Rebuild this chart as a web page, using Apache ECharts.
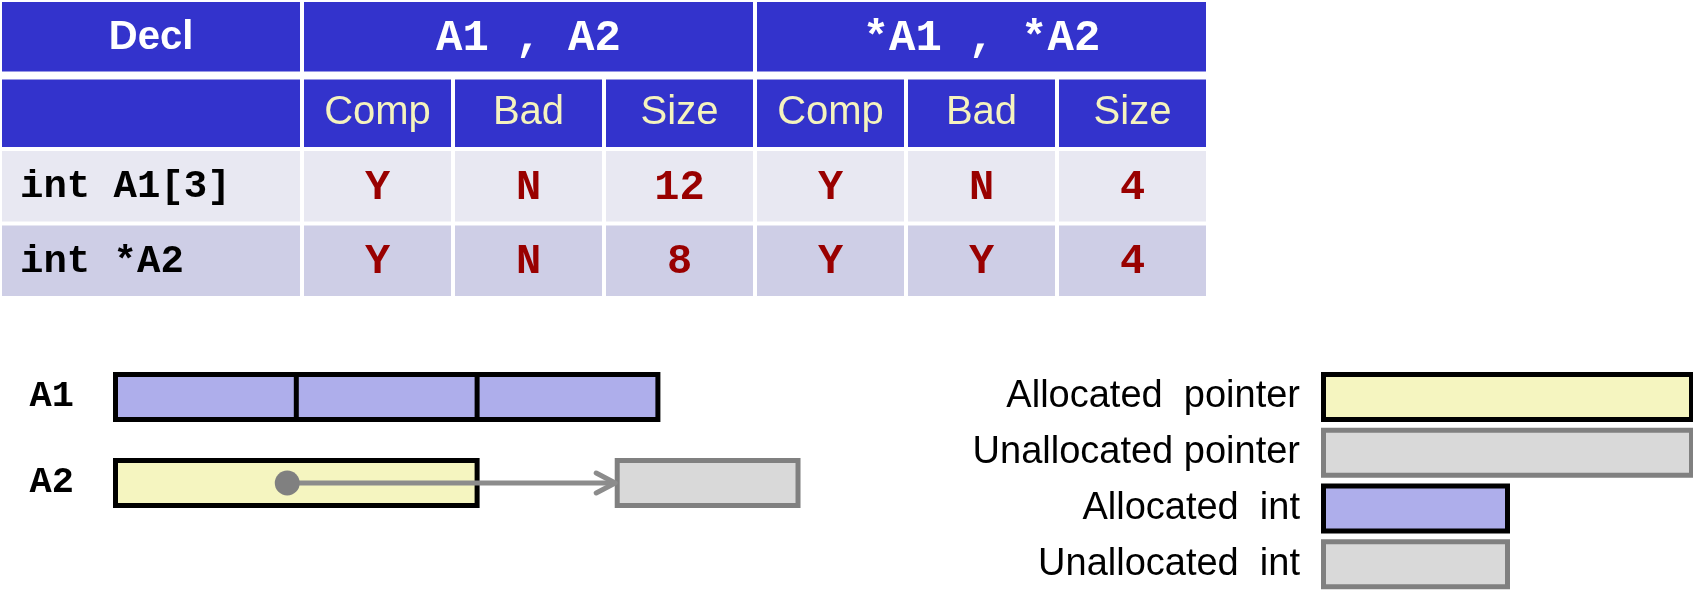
<!DOCTYPE html>
<html>
<head>
<meta charset="utf-8">
<script src="https://cdn.jsdelivr.net/npm/echarts@6/dist/echarts.min.js"></script>
<style>
html, body { margin: 0; padding: 0; background: #fff; }
#chart { width: 1693px; height: 604px; }
</style>
</head>
<body>
<div id="chart"></div>
<script>
// ---- table content ----
var groupTitles = ['Decl', 'A1 , A2', '*A1 , *A2'];
var groupSpans = [2, 3, 3];
var columnTitles = ['Comp', 'Bad', 'Size'];
var decls = ['int A1[3]', 'int *A2'];
// per declaration: Comp, Bad, Size
var directInfo = [['Y', 'N', '12'], ['Y', 'N', '8']];
var derefInfo = [['Y', 'N', '4'], ['Y', 'Y', '4']];

// ---- memory picture, sizes in bytes ----
var varNames = ['A1', 'A2'];
var varKinds = ['allocInt', 'allocPtr'];
var varSizes = [12, 8];
var varCells = [3, 1];
var pointerFrom = 3.8;
var targetStart = 11.1;
var targetSize = 4;

// ---- legend ----
var legendNames = ['Allocated  pointer', 'Unallocated pointer', 'Allocated  int', 'Unallocated  int'];
var legendKinds = ['allocPtr', 'unallocPtr', 'allocInt', 'unallocInt'];
var legendSizes = [8, 8, 4, 4];

var kindStyle = {
    allocPtr: { fill: '#F5F5C0', stroke: '#000000' },
    unallocPtr: { fill: '#D9D9D9', stroke: '#808080' },
    allocInt: { fill: '#AEAEEB', stroke: '#000000' },
    unallocInt: { fill: '#D9D9D9', stroke: '#808080' }
};

var SANS = '"Liberation Sans", Arial, sans-serif';
var MONO = '"Courier New", "Liberation Mono", monospace';

var textStyles = {
    titleSans: { font: 'bold 40px ' + SANS, fill: '#ffffff', align: 'center', dy: 1 },
    titleMono: { font: 'bold 44px ' + MONO, fill: '#ffffff', align: 'center', dy: 2 },
    sub: { font: '40px ' + SANS, fill: '#F5F3BE', align: 'center', dy: 0 },
    decl: { font: 'bold 39px ' + MONO, fill: '#000000', align: 'left', dy: 1 },
    val: { font: 'bold 42px ' + MONO, fill: '#990000', align: 'center', dy: 2 }
};
var rowFills = ['#3333CC', '#3333CC', '#E8E8F2', '#CECEE6'];

// build the table cells: [col, row, span, text, kind]
var cells = [];
var col = 0;
groupTitles.forEach(function (t, i) {
    cells.push([col, 0, groupSpans[i], t, i === 0 ? 'titleSans' : 'titleMono']);
    col += groupSpans[i];
});
cells.push([0, 1, 2, '', 'sub']);
[0, 1].forEach(function (g) {
    columnTitles.forEach(function (t, j) { cells.push([2 + g * 3 + j, 1, 1, t, 'sub']); });
});
decls.forEach(function (d, r) {
    cells.push([0, 2 + r, 2, d, 'decl']);
    directInfo[r].forEach(function (v, j) { cells.push([2 + j, 2 + r, 1, v, 'val']); });
    derefInfo[r].forEach(function (v, j) { cells.push([5 + j, 2 + r, 1, v, 'val']); });
});

// memory blocks: [start, row, size, cells, kind]
var blocks = [];
varNames.forEach(function (n, i) { blocks.push([0, i, varSizes[i], varCells[i], varKinds[i]]); });
blocks.push([targetStart, 1, targetSize, 1, 'unallocInt']);

var legendBlocks = legendNames.map(function (n, i) { return [0, i, legendSizes[i], 1, legendKinds[i]]; });

function renderCell(params, api) {
    var item = cells[params.dataIndex];
    var c = item[0], r = item[1], span = item[2];
    var p0 = api.coord([c, r]);
    var p1 = api.coord([c + span, r + 1]);
    var top = p0[1] + (r === 1 ? 5 : 2);
    var bottom = p1[1] - (r === 0 ? 3 : 2);
    var left = p0[0] + 2, right = p1[0] - 2;
    var ts = textStyles[item[4]];
    var tx = ts.align === 'left' ? left + 18 : (left + right) / 2;
    return {
        type: 'group',
        children: [{
            type: 'rect',
            shape: { x: left, y: top, width: right - left, height: bottom - top },
            style: { fill: rowFills[r] }
        }, {
            type: 'text',
            style: {
                text: item[3], x: tx, y: (top + bottom) / 2 + ts.dy,
                font: ts.font, fill: ts.fill, align: ts.align, verticalAlign: 'middle'
            }
        }]
    };
}

function makeBlockRenderer(list) {
    return function (params, api) {
        var item = list[params.dataIndex];
        var start = item[0], row = item[1], size = item[2], n = item[3];
        var st = kindStyle[item[4]];
        var a = api.coord([start, row]);
        var b = api.coord([start + size, row]);
        var h = 45;
        var y = a[1] - h / 2;
        var children = [{
            type: 'rect',
            shape: { x: a[0], y: y, width: b[0] - a[0], height: h },
            style: { fill: st.fill, stroke: st.stroke, lineWidth: 5 }
        }];
        for (var k = 1; k < n; k++) {
            var x = api.coord([start + size * k / n, row])[0];
            children.push({
                type: 'line',
                shape: { x1: x, y1: y, x2: x, y2: y + h },
                style: { stroke: st.stroke, lineWidth: 5 }
            });
        }
        return { type: 'group', children: children };
    };
}

function renderPointer(params, api) {
    var from = api.coord([api.value(0), api.value(1)]);
    var to = api.coord([api.value(2), api.value(1)]);
    var tipX = to[0] - 2, y = from[1];
    return {
        type: 'group',
        children: [{
            type: 'line',
            shape: { x1: from[0], y1: y, x2: tipX, y2: y },
            style: { stroke: '#8C8C8C', lineWidth: 5 }
        }, {
            type: 'polyline',
            shape: { points: [[tipX - 19, y - 10], [tipX, y], [tipX - 19, y + 10]] },
            style: { stroke: '#8C8C8C', lineWidth: 5, fill: null, lineCap: 'round', lineJoin: 'round' }
        }, {
            type: 'circle',
            shape: { cx: from[0], cy: y, r: 12.5 },
            style: { fill: '#808080' }
        }]
    };
}

var option = {
    animation: false,
    backgroundColor: '#ffffff',
    grid: [
        { left: -2, top: -2, width: 1210, height: 300 },
        { left: 115.5, top: 354, width: 678, height: 172 },
        { left: 1323.5, top: 369, width: 368, height: 223 }
    ],
    xAxis: [
        { type: 'value', gridIndex: 0, min: 0, max: 8, show: false },
        { type: 'value', gridIndex: 1, min: 0, max: 15, show: false },
        { type: 'value', gridIndex: 2, min: 0, max: 8, show: false }
    ],
    yAxis: [
        { type: 'value', gridIndex: 0, min: 0, max: 4, inverse: true, show: false },
        {
            type: 'category', gridIndex: 1, data: varNames, inverse: true,
            axisLine: { show: false }, axisTick: { show: false }, splitLine: { show: false },
            axisLabel: { margin: 41.5, interval: 0, color: '#000', fontSize: 37, fontWeight: 'bold', fontFamily: MONO }
        },
        {
            type: 'category', gridIndex: 2, data: legendNames, inverse: true,
            axisLine: { show: false }, axisTick: { show: false }, splitLine: { show: false },
            axisLabel: { margin: 23.5, interval: 0, color: '#000', fontSize: 38, fontFamily: SANS }
        }
    ],
    series: [
        { type: 'custom', xAxisIndex: 0, yAxisIndex: 0, data: cells.map(function (c) { return [c[0], c[1], c[2]]; }), renderItem: renderCell, silent: true, clip: false },
        { type: 'custom', xAxisIndex: 1, yAxisIndex: 1, data: blocks.map(function (b) { return [b[0], b[1], b[2]]; }), renderItem: makeBlockRenderer(blocks), silent: true, clip: false },
        { type: 'custom', xAxisIndex: 1, yAxisIndex: 1, data: [[pointerFrom, 1, targetStart]], renderItem: renderPointer, silent: true, clip: false },
        { type: 'custom', xAxisIndex: 2, yAxisIndex: 2, data: legendBlocks.map(function (b) { return [b[0], b[1], b[2]]; }), renderItem: makeBlockRenderer(legendBlocks), silent: true, clip: false }
    ]
};

var myChart = echarts.init(document.getElementById('chart'));
myChart.setOption(option, true);
</script>
</body>
</html>
